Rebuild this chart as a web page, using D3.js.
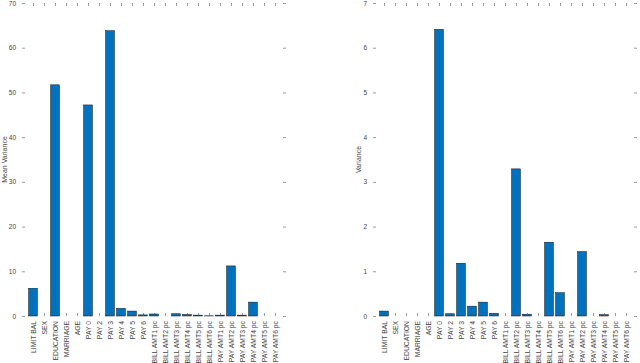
<!DOCTYPE html>
<html>
<head>
<meta charset="utf-8">
<script src="https://cdnjs.cloudflare.com/ajax/libs/d3/7.8.5/d3.min.js"></script>
<style>
  body { margin: 0; background: #fff; }
  svg text { font-family: "Liberation Sans", Arial, sans-serif; fill: #444; }
</style>
</head>
<body>
<div id="chart"></div>
<script>
// feature names (same order in both panels)
const features = [
    "LIMIT BAL", "SEX", "EDUCATION", "MARRIAGE", "AGE",
    "PAY 0", "PAY 2", "PAY 3", "PAY 4", "PAY 5", "PAY 6",
    "BILL AMT1 pc", "BILL AMT2 pc", "BILL AMT3 pc", "BILL AMT4 pc", "BILL AMT5 pc", "BILL AMT6 pc",
    "PAY AMT1 pc", "PAY AMT2 pc", "PAY AMT3 pc", "PAY AMT4 pc", "PAY AMT5 pc", "PAY AMT6 pc"
];

// left panel values
const meanVariance = [
    6.2, 0, 51.7, 0, 0,
    47.2, 0, 63.8, 1.7, 1.1, 0.25,
    0.45, 0, 0.5, 0.35, 0.2, 0.05,
    0.2, 11.2, 0.2, 3.1, 0, 0
];

// right panel values
const variance = [
    0.11, 0, 0, 0, 0,
    6.41, 0.05, 1.18, 0.22, 0.31, 0.06,
    0, 3.29, 0.04, 0, 1.65, 0.52,
    0, 1.44, 0, 0.03, 0, 0
];

const yTicksLeft = [0, 10, 20, 30, 40, 50, 60, 70];
const yTicksRight = [0, 1, 2, 3, 4, 5, 6, 7];

const W = 640, H = 363;
const svg = d3.select("#chart").append("svg")
    .attr("width", W)
    .attr("height", H);

const plotTop = 3, plotBottom = 316;

function drawPanel(opts) {
    const x = d3.scaleLinear().domain([0, features.length + 1]).range([opts.x0, opts.x1]);
    const y = d3.scaleLinear().domain([0, opts.ymax]).range([plotBottom, plotTop]);
    const g = svg.append("g");

    // bars
    g.selectAll("rect.bar")
        .data(opts.values)
        .join("rect")
        .attr("class", "bar")
        .attr("x", (d, i) => x(i + 1 - 0.4))
        .attr("width", x(0.8) - x(0))
        .attr("y", d => y(d))
        .attr("height", d => y(0) - y(d))
        .attr("fill", "#0072bd")
        .attr("stroke", "#111")
        .attr("stroke-width", 0.5);

    // y axis left (ticks inward)
    const yAxis = g.append("g")
        .attr("transform", `translate(${opts.x0},0)`)
        .call(d3.axisLeft(y).tickValues(opts.ticks).tickSize(-3).tickPadding(6).tickFormat(d3.format("d")));
    yAxis.select(".domain").remove();
    yAxis.selectAll("line").attr("stroke", "#555").attr("stroke-width", 0.6);
    yAxis.selectAll("text").attr("font-size", 6.5).attr("fill", "#555");

    // y ticks right side
    const yAxisR = g.append("g")
        .attr("transform", `translate(${opts.x1},0)`)
        .call(d3.axisRight(y).tickValues(opts.ticks).tickSize(-3).tickFormat(""));
    yAxisR.select(".domain").remove();
    yAxisR.selectAll("line").attr("stroke", "#555").attr("stroke-width", 0.6);

    // top ticks
    const xTop = g.append("g")
        .attr("transform", `translate(0,${plotTop})`)
        .call(d3.axisTop(x).tickValues(d3.range(1, features.length + 1)).tickSize(-3).tickFormat(""));
    xTop.select(".domain").remove();
    xTop.selectAll("line").attr("stroke", "#555").attr("stroke-width", 0.6);

    // bottom axis with rotated labels
    const xBot = g.append("g")
        .attr("transform", `translate(0,${plotBottom})`)
        .call(d3.axisBottom(x).tickValues(d3.range(1, features.length + 1))
            .tickSize(-3).tickFormat(i => features[i - 1]));
    xBot.select(".domain").remove();
    xBot.selectAll("line").attr("stroke", "#555").attr("stroke-width", 0.6);
    xBot.selectAll("text")
        .attr("font-size", 6.8)
        .attr("fill", "#555")
        .attr("text-anchor", "end")
        .attr("transform", "rotate(-90)")
        .attr("x", -5)
        .attr("y", 0)
        .attr("dy", "0.35em");

    // y label
    svg.append("text")
        .attr("transform", `translate(${opts.labelX},${(plotTop + plotBottom) / 2}) rotate(-90)`)
        .attr("text-anchor", "middle")
        .attr("dy", "0.35em")
        .attr("font-size", 7)
        .attr("fill", "#333")
        .text(opts.label);
}

drawPanel({ x0: 22, x1: 286, ymax: 70, ticks: yTicksLeft, values: meanVariance, label: "Mean Variance", labelX: 5 });
drawPanel({ x0: 373, x1: 637, ymax: 7, ticks: yTicksRight, values: variance, label: "Variance", labelX: 359 });
</script>
</body>
</html>
